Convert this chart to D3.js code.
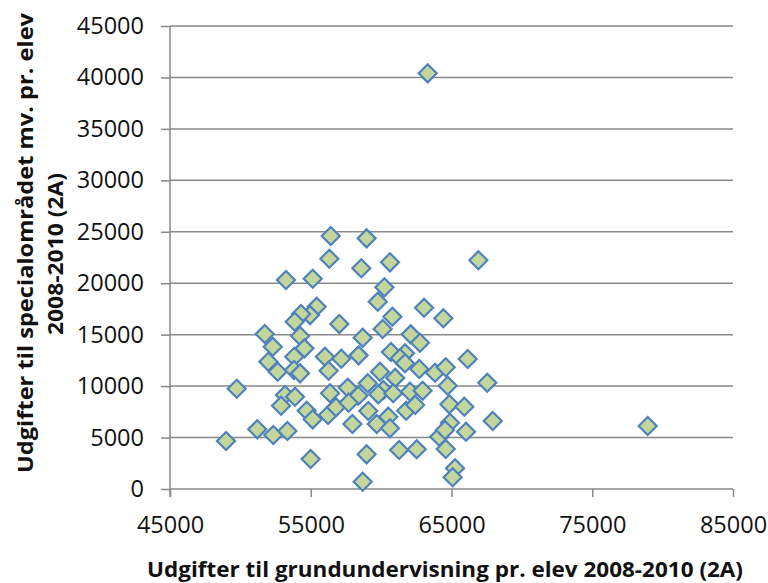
<!DOCTYPE html>
<html>
<head>
<meta charset="utf-8">
<script src="https://cdn.jsdelivr.net/npm/d3@7"></script>
<style>
  body { margin: 0; background: #fff; }
  svg { display: block; font-family: 'Open Sans', Lato, sans-serif; }
</style>
</head>
<body>
<div id="chart"></div>
<script>
// x: Udgifter til grundundervisning, y: Udgifter til specialområdet
const grund = [
  63310, 78940, 56420, 58970, 56320, 58590, 60630, 66910, 53240, 55140,
  60230, 59760, 55420, 54950, 54310, 53860, 60800, 57030, 63050, 64420,
  60110, 51730, 54240, 58690, 62100, 62760, 52300, 54550, 60700, 61700,
  51990, 53830, 56010, 57170, 58400, 61340, 61700, 66150, 59920, 52650,
  53810, 54240, 56270, 61000, 62710, 63830, 64590, 49740, 57630, 59050,
  60160, 64730, 67540, 56370, 58380, 59800, 60860, 62050, 62950, 53170,
  53880, 52890, 54710, 55140, 56230, 56790, 57690, 59090, 60510, 61780,
  62420, 64850, 65910, 57960, 59690, 60630, 64890, 67930, 51200, 52340,
  53340, 48980, 64130, 66030, 64540, 61280, 62530, 64590, 54990, 58970,
  65250, 65080, 58690
];
const special = [
  40400, 6120, 24590, 24360, 22380, 21450, 22030, 22230, 20310, 20440,
  19600, 18200, 17720, 16900, 17000, 16260, 16740, 16040, 17620, 16590,
  15550, 15060, 14870, 14700, 15030, 14220, 13830, 13670, 13310, 13190,
  12370, 12860, 12860, 12660, 12990, 12700, 12220, 12630, 11400, 11400,
  11560, 11240, 11500, 10800, 11660, 11300, 11830, 9750, 9840, 10270,
  9620, 10040, 10330, 9300, 9070, 9200, 9300, 9460, 9550, 9140,
  8970, 8100, 7610, 6770, 7190, 7940, 8390, 7580, 7030, 7610,
  8160, 8230, 8000, 6320, 6320, 5900, 6440, 6610, 5800, 5250,
  5640, 4660, 5080, 5570, 5730, 3790, 3860, 3890, 2920, 3370,
  2010, 1140, 710
];
const xTicks = [45000, 55000, 65000, 75000, 85000];
const yTicks = [0, 5000, 10000, 15000, 20000, 25000, 30000, 35000, 40000, 45000];
const xTitle = 'Udgifter til grundundervisning pr. elev 2008-2010 (2A)';
const yTitle = ['Udgifter til specialområdet mv.  pr. elev', '2008-2010 (2A)'];

const W = 768;
const H = 583;
const margin = { top: 26, right: 35, bottom: 94, left: 170 };
const width = W - margin.left - margin.right;
const height = H - margin.top - margin.bottom;
const gridColor = '#898989';
const textColor = '#111';

const svg = d3.select('#chart')
  .append('svg')
  .attr('width', W)
  .attr('height', H);

const g = svg.append('g')
  .attr('transform', `translate(${margin.left},${margin.top})`);

const x = d3.scaleLinear().domain([45000, 85000]).range([0, width]);
const y = d3.scaleLinear().domain([0, 45000]).range([height, 0]);

// horizontal gridlines
g.append('g')
  .selectAll('line')
  .data(yTicks.filter(d => d > 0))
  .enter()
  .append('line')
  .attr('x1', 0)
  .attr('x2', width)
  .attr('y1', d => y(d))
  .attr('y2', d => y(d))
  .attr('stroke', gridColor)
  .attr('stroke-width', 1.5);

// y axis
const yAxis = g.append('g')
  .call(d3.axisLeft(y).tickValues(yTicks).tickSize(9).tickPadding(17).tickFormat(d3.format('d')));

// x axis
const xAxis = g.append('g')
  .attr('transform', `translate(0,${height})`)
  .call(d3.axisBottom(x).tickValues(xTicks).tickSize(8).tickPadding(19).tickFormat(d3.format('d')));

[yAxis, xAxis].forEach(a => {
  a.select('.domain').attr('stroke', gridColor).attr('stroke-width', 1.5);
  a.selectAll('.tick line').attr('stroke', gridColor).attr('stroke-width', 1.5);
  a.selectAll('.tick text')
    .attr('fill', textColor)
    .style('font-family', "'Open Sans', sans-serif")
    .style('font-size', '23.5px');
});
xAxis.select('.domain').attr('d', `M0,0H${width}`);
yAxis.select('.domain').attr('d', `M0,0V${height + 8}`);

// data points
const pts = grund.map((v, i) => ({ gx: v, sy: special[i] }));
const r = 9;
g.append('g')
  .selectAll('path')
  .data(pts)
  .enter()
  .append('path')
  .attr('d', `M0,${-r}L${r},0L0,${r}L${-r},0Z`)
  .attr('transform', d => `translate(${x(d.gx)},${y(d.sy)})`)
  .attr('fill', '#c3d69b')
  .attr('stroke', '#4f81bd')
  .attr('stroke-width', 2.2);

// x-axis title
svg.append('text')
  .attr('x', 445)
  .attr('y', 577)
  .attr('text-anchor', 'middle')
  .attr('textLength', 596)
  .attr('lengthAdjust', 'spacingAndGlyphs')
  .style('font-size', '21px')
  .style('font-weight', 'bold')
  .attr('fill', textColor)
  .text(xTitle);

// y-axis title, two centred lines
svg.append('text')
  .attr('transform', 'translate(33,243) rotate(-90)')
  .attr('text-anchor', 'middle')
  .attr('textLength', 460)
  .attr('lengthAdjust', 'spacingAndGlyphs')
  .style('font-size', '21px')
  .style('font-weight', 'bold')
  .attr('fill', textColor)
  .text(yTitle[0]);
svg.append('text')
  .attr('transform', 'translate(63,254) rotate(-90)')
  .attr('text-anchor', 'middle')
  .attr('textLength', 162)
  .attr('lengthAdjust', 'spacingAndGlyphs')
  .style('font-size', '21px')
  .style('font-weight', 'bold')
  .attr('fill', textColor)
  .text(yTitle[1]);
</script>
</body>
</html>
